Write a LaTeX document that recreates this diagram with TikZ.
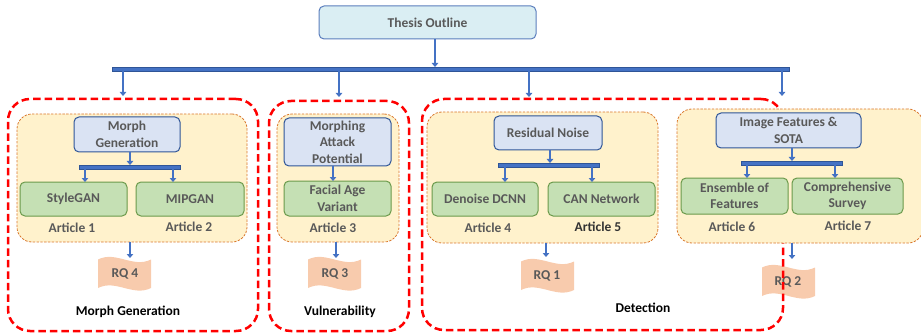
\documentclass[tikz,border=0pt]{standalone}
\usepackage{fontspec}
\setmainfont{Carlito}
\usetikzlibrary{arrows.meta}
\definecolor{txtgray}{HTML}{595959}
\definecolor{thfill}{HTML}{DAEEF3}
\definecolor{thdraw}{HTML}{5B7EBD}
\definecolor{hdrfill}{HTML}{DAE3F3}
\definecolor{hdrdraw}{HTML}{2F5597}
\definecolor{grnfill}{HTML}{C5E0B4}
\definecolor{grndraw}{HTML}{6B9A4B}
\definecolor{orgfill}{HTML}{FFF2CC}
\definecolor{orgdraw}{HTML}{D9782E}
\definecolor{rqfill}{HTML}{F8CBAD}
\definecolor{barblue}{HTML}{4472C4}
\definecolor{bardark}{HTML}{2F5597}
\definecolor{redline}{HTML}{FF0000}
\tikzset{
  lbl/.style={font=\fontsize{13.5}{16.5}\selectfont\bfseries, text=txtgray, align=center, inner sep=0pt},
  boxed/.style={lbl, rounded corners=5pt, line width=1pt},
  thesisbox/.style={boxed, draw=thdraw, fill=thfill},
  hdr/.style={boxed, draw=hdrdraw, fill=hdrfill},
  grn/.style={boxed, draw=grndraw, fill=grnfill},
  grp/.style={draw=orgdraw, fill=orgfill, line width=0.8pt, dash pattern=on 2.4pt off 1.4pt, rounded corners=15pt, inner sep=0pt},
  region/.style={draw=redline, line width=2.5pt, dash pattern=on 7.5pt off 4pt, rounded corners=22pt, inner sep=0pt},
  bar/.style={fill=barblue, draw=bardark, line width=0.5pt, inner sep=0pt, minimum height=4pt},
  arr/.style={draw=barblue, line width=2.2pt, -{Triangle[length=4pt,width=6.5pt]}},
  art/.style={lbl},
  themecap/.style={font=\fontsize{13.5}{16}\selectfont\bfseries, text=black, inner sep=0pt},
  pics/rqwave/.style={code={
    \fill[rqfill] (0,3.5) .. controls (17.7,-5.5) and (35.3,12.5) .. (53,3.5)
      -- (53,32) .. controls (35.3,41) and (17.7,23) .. (0,32) -- cycle;
  }}
}
\begin{document}
\begin{tikzpicture}[x=1pt,y=-1pt]
\useasboundingbox (0,0) rectangle (921,334);

% research question banners
\pic at (98,256) {rqwave};
\pic at (308,256) {rqwave};
\pic at (521,258) {rqwave};
\pic at (762,264) {rqwave};
\node[lbl] (rq4) at (125,274) {RQ 4};
\node[lbl] (rq3) at (335,274) {RQ 3};
\node[lbl] (rq1) at (547,276) {RQ 1};
\node[lbl] (rq2) at (788,282) {RQ 2};

% themes (red dashed regions)
\node[region, minimum width=250pt, minimum height=232pt] (regA) at (133,215) {};
\node[region, minimum width=140pt, minimum height=230pt] (regB) at (339,216) {};
\node[region, minimum width=361pt, minimum height=231pt] (regC) at (602.5,214.5) {};

% article groups (orange dashed)
\node[grp, minimum width=230pt, minimum height=128pt] (grpA) at (132,178) {};
\node[grp, minimum width=122pt, minimum height=128pt] (grpB) at (338,178) {};
\node[grp, minimum width=231pt, minimum height=131pt] (grpC) at (542.5,177.5) {};
\node[grp, minimum width=246pt, minimum height=134pt] (grpD) at (800,176) {};

% top of the tree
\node[thesisbox, minimum width=217pt, minimum height=33pt] (thesis) at (427.5,22.5) {Thesis Outline};
\node[bar, minimum width=677pt] (bar0) at (450.5,69) {};

% headers
\node[hdr, minimum width=106pt, minimum height=35pt] (hdrA) at (127,134.5) {Morph\\Generation};
\node[hdr, minimum width=107pt, minimum height=48pt] (hdrB) at (337.5,142) {Morphing\\Attack\\Potential};
\node[hdr, minimum width=108pt, minimum height=34pt] (hdrC) at (548,133) {Residual Noise};
\node[hdr, minimum width=145pt, minimum height=35pt] (hdrD) at (788.5,130.5) {Image Features \&\\SOTA};

% branch bars
\node[bar, minimum width=101pt] (barA) at (129.5,167) {};
\node[bar, minimum width=101pt] (barC) at (548.5,165) {};
\node[bar, minimum width=101pt] (barD) at (791.5,163) {};

% articles
\node[grn, minimum width=107pt, minimum height=34pt] (sg) at (73.5,199) {StyleGAN};
\node[grn, minimum width=108pt, minimum height=34pt] (mip) at (190,199) {MIPGAN};
\node[grn, minimum width=107pt, minimum height=35pt] (fav) at (337.5,198.5) {Facial Age\\Variant};
\node[grn, minimum width=106pt, minimum height=34pt] (dcnn) at (485,199) {Denoise DCNN};
\node[grn, minimum width=107pt, minimum height=34pt] (can) at (601.5,199) {CAN Network};
\node[grn, minimum width=107pt, minimum height=36pt] (ens) at (734.5,196) {Ensemble of\\Features};
\node[grn, minimum width=111pt, minimum height=36pt] (surv) at (847.5,196) {Comprehensive\\Survey};

\node[art] (a1) at (72,228) {Article 1};
\node[art] (a2) at (189,227) {Article 2};
\node[art] (a3) at (333,228) {Article 3};
\node[art] (a4) at (488,228) {Article 4};
\node[art, text=black!80] (a5) at (598,227) {Article 5};
\node[art] (a6) at (732,227) {Article 6};
\node[art] (a7) at (848,226) {Article 7};

% theme captions
\node[themecap] (capA) at (128,312) {Morph Generation};
\node[themecap] (capB) at (340,312) {Vulnerability};
\node[themecap] (capC) at (643,308) {Detection};

% arrow tips
\coordinate (t0) at (435,67);
\coordinate (m1) at (123,96);
\coordinate (m2) at (339,97);
\coordinate (m3) at (529,97);
\coordinate (m4) at (782,96);
\coordinate (tA0) at (130,165);
\coordinate (tA1) at (85,182);
\coordinate (tA2) at (173,182);
\coordinate (tB) at (333,181);
\coordinate (tC0) at (550,163);
\coordinate (tC1) at (505,182);
\coordinate (tC2) at (592,182);
\coordinate (tD0) at (792,161);
\coordinate (tD1) at (747,178);
\coordinate (tD2) at (835,178);
\coordinate (rA) at (130,258);
\coordinate (rB) at (336,258);
\coordinate (rC) at (546,257);
\coordinate (rD) at (792,259);

% connectors
\draw[arr] (thesis.south -| t0) -- (t0);
\foreach \m in {m1,m2,m3,m4} \draw[arr] (bar0.south -| \m) -- (\m);
\draw[arr] (hdrA.south -| tA0) -- (tA0);
\draw[arr] (barA.south -| tA1) -- (tA1);
\draw[arr] (barA.south -| tA2) -- (tA2);
\draw[arr] (hdrB.south -| tB) -- (tB);
\draw[arr] (hdrC.south -| tC0) -- (tC0);
\draw[arr] (barC.south -| tC1) -- (tC1);
\draw[arr] (barC.south -| tC2) -- (tC2);
\draw[arr] (hdrD.south -| tD0) -- (tD0);
\draw[arr] (barD.south -| tD1) -- (tD1);
\draw[arr] (barD.south -| tD2) -- (tD2);
\draw[arr] (grpA.south -| rA) -- (rA);
\draw[arr] (grpB.south -| rB) -- (rB);
\draw[arr] (grpC.south -| rC) -- (rC);
\draw[arr] (grpD.south -| rD) -- (rD);
\end{tikzpicture}
\end{document}
